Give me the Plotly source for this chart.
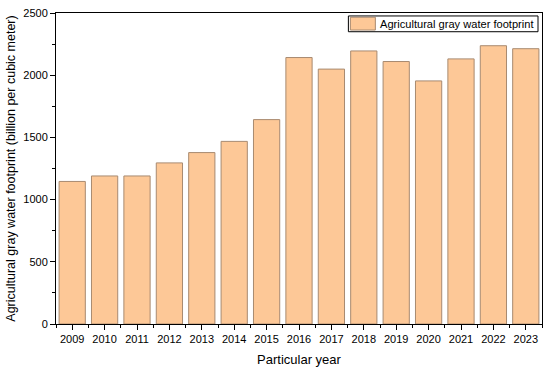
import plotly.graph_objects as go

years = list(range(2009, 2024))
values = [1146, 1190, 1190, 1295, 1378, 1468, 1643, 2142, 2049, 2195, 2110, 1954, 2131, 2237, 2213]
y_ticks = [0, 500, 1000, 1500, 2000, 2500]
series_name = "Agricultural gray water footprint"

FONT = "Arial, Liberation Sans, sans-serif"
FILL = "#FDC897"
EDGE = "#A88A70"

fig = go.Figure()
fig.add_trace(go.Bar(
    x=years, y=values, width=0.81,
    name=series_name,
    marker=dict(color=FILL, line=dict(color=EDGE, width=1)),
    showlegend=False,
))

# legend drawn as a box with a wide swatch, like the reference
fig.add_shape(type="rect", xref="paper", yref="paper",
              x0=0.6016, x1=0.9918, y0=0.9398, y1=0.9905,
              line=dict(color="black", width=1), fillcolor="white", layer="above")
fig.add_shape(type="rect", xref="paper", yref="paper",
              x0=0.6057, x1=0.6571, y0=0.9452, y1=0.9864,
              line=dict(color=EDGE, width=1), fillcolor=FILL, layer="above")
fig.add_annotation(xref="paper", yref="paper", x=0.6633, y=0.965,
                   xanchor="left", yanchor="middle", showarrow=False,
                   text=series_name, font=dict(size=11.1, family=FONT, color="black"))

fig.update_layout(
    width=550, height=371,
    margin=dict(l=56, r=7, t=11, b=45),
    paper_bgcolor="white", plot_bgcolor="white",
    font=dict(family=FONT, size=11, color="black"),
    showlegend=False,
)

fig.update_xaxes(
    range=[2008.5, 2023.5],
    tickmode="array", tickvals=years, ticktext=[str(y) for y in years],
    ticks="outside", ticklen=5, tickwidth=1, tickcolor="black",
    minor=dict(tickmode="linear", tick0=2008.5, dtick=1, ticks="outside", ticklen=3, tickcolor="black"),
    showline=True, linecolor="black", linewidth=1, mirror=True,
    showgrid=False, zeroline=False,
    title=dict(text="Particular year", font=dict(size=13, family=FONT), standoff=10),
    tickfont=dict(size=11, family=FONT),
)

fig.update_yaxes(
    range=[0, 2500],
    tickmode="array", tickvals=y_ticks,
    ticks="outside", ticklen=5, tickwidth=1, tickcolor="black",
    minor=dict(tickmode="linear", tick0=250, dtick=500, ticks="outside", ticklen=3, tickcolor="black"),
    showline=True, linecolor="black", linewidth=1, mirror=True,
    showgrid=False, zeroline=False,
    title=dict(text="Agricultural gray water footprint (billion per cubic meter)", font=dict(size=12.5, family=FONT), standoff=4),
    tickfont=dict(size=11, family=FONT),
)

fig.write_html("out.html", config={"displayModeBar": False},
               post_script="document.body.style.margin='0';")
